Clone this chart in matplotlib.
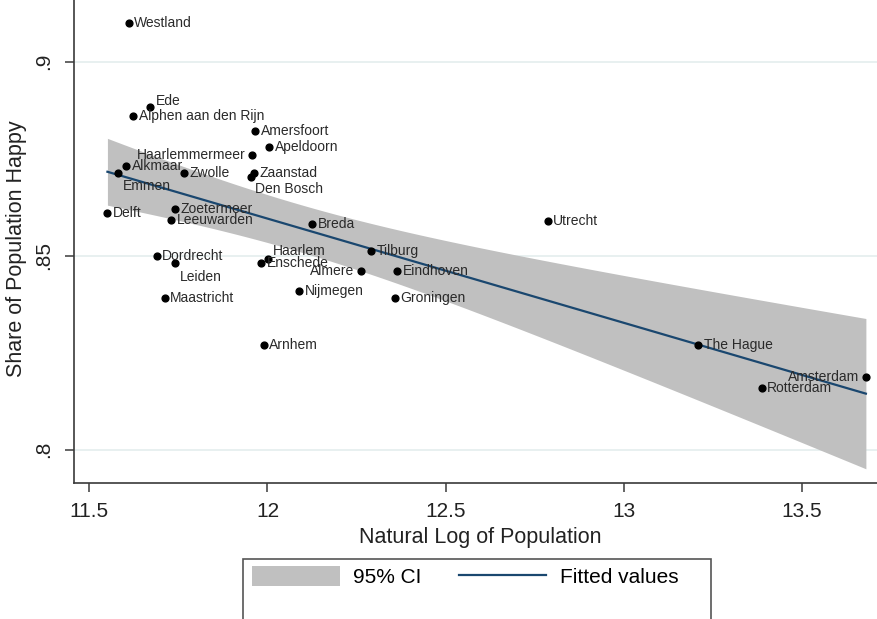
import numpy as np
import matplotlib
matplotlib.use("Agg")
import matplotlib.pyplot as plt
from matplotlib.patches import Patch, Rectangle
from matplotlib.lines import Line2D

plt.rcParams['font.family'] = ['Liberation Sans', 'DejaVu Sans']

# data
cities = ['Westland', 'Ede', 'Alphen aan den Rijn', 'Amersfoort', 'Apeldoorn',
          'Haarlemmermeer', 'Alkmaar', 'Emmen', 'Zwolle', 'Zaanstad', 'Den Bosch',
          'Delft', 'Zoetermeer', 'Leeuwarden', 'Breda', 'Dordrecht', 'Leiden',
          'Haarlem', 'Enschede', 'Almere', 'Tilburg', 'Nijmegen', 'Maastricht',
          'Arnhem', 'Eindhoven', 'Groningen', 'Utrecht', 'The Hague', 'Rotterdam',
          'Amsterdam']
log_pop = [11.611, 11.670, 11.623, 11.966, 12.005,
           11.957, 11.603, 11.582, 11.767, 11.963, 11.954,
           11.551, 11.740, 11.729, 12.126, 11.689, 11.740,
           12.001, 11.982, 12.262, 12.290, 12.088, 11.712,
           11.990, 12.364, 12.358, 12.786, 13.208, 13.387,
           13.679]
happy = [0.9099, 0.8882, 0.8861, 0.8821, 0.8781,
         0.8760, 0.8732, 0.8712, 0.8712, 0.8712, 0.8704,
         0.8611, 0.8620, 0.8591, 0.8581, 0.8500, 0.8480,
         0.8491, 0.8480, 0.8461, 0.8512, 0.8410, 0.8392,
         0.8269, 0.8461, 0.8390, 0.8590, 0.8269, 0.8158,
         0.8188]

# label placement (offsets in points, alignment)
label_pos = {
    'Ede': (4, 5, 'left'),
    'Emmen': (3, -9, 'left'),
    'Den Bosch': (3, -9, 'left'),
    'Haarlemmermeer': (-5, 0, 'right'),
    'Leiden': (4, -10, 'left'),
    'Haarlem': (4, 6, 'left'),
    'Almere': (-5, 0, 'right'),
    'Amsterdam': (-5, 0, 'right'),
}

x = np.array(log_pop)
y = np.array(happy)

# linear fit with 95% CI of the mean prediction
n = len(x)
b, a = np.polyfit(x, y, 1)
resid = y - (a + b * x)
s = np.sqrt(np.sum(resid ** 2) / (n - 2))
sxx = np.sum((x - x.mean()) ** 2)
t = 2.048
xs = np.linspace(x.min(), x.max(), 100)
fit = a + b * xs
half = t * s * np.sqrt(1 / n + (xs - x.mean()) ** 2 / sxx)

fig = plt.figure(figsize=(8.78, 6.19), dpi=100)
ax = fig.add_axes([0.0846, 0.2192, 1 - 0.0846, 1 - 0.2192])

ax.fill_between(xs, fit - half, fit + half, color='#c0c0c0', lw=0, zorder=1)
ax.plot(xs, fit, color='#1a476f', lw=1.6, zorder=2)
ax.scatter(x, y, s=24, color='black', zorder=3)

for name, xi, yi in zip(cities, x, y):
    dx, dy, ha = label_pos.get(name, (4, 0, 'left'))
    ax.annotate(name, (xi, yi), xytext=(dx, dy), textcoords='offset points',
                ha=ha, va='center', fontsize=10, color='#2a2a2a', zorder=4)

ax.set_xlim(11.458, 13.713)
ax.set_ylim(0.79134, 0.9159)
ax.set_xticks([11.5, 12, 12.5, 13, 13.5])
ax.set_xticklabels(['11.5', '12', '12.5', '13', '13.5'])
ax.set_yticks([0.8, 0.85, 0.9])
ax.set_yticklabels(['.8', '.85', '.9'], rotation=90, va='center')
ax.grid(axis='y', color='#e4eeee', lw=1.2)
ax.set_axisbelow(True)

for side in ['top', 'right']:
    ax.spines[side].set_visible(False)
for side in ['left', 'bottom']:
    ax.spines[side].set_color('#3a3a3a')
    ax.spines[side].set_linewidth(1.2)
ax.tick_params(axis='both', length=6.5, width=1.1, color='#3a3a3a',
               labelsize=15, labelcolor='#222222')
ax.tick_params(axis='x', pad=7)
ax.tick_params(axis='y', pad=9)

ax.set_xlabel('Natural Log of Population', fontsize=15.5, color='#222222')
ax.set_ylabel('Share of Population Happy', fontsize=15.5, color='#222222')
ax.xaxis.set_label_coords(0.505, -0.090)
ax.yaxis.set_label_coords(-0.059, 0.485)

# legend
handles = [Patch(facecolor='#c0c0c0', edgecolor='none'),
           Line2D([0], [0], color='#1a476f', lw=1.6)]
fig.legend(handles, ['95% CI', 'Fitted values'], ncol=2, frameon=False,
           loc='upper left', bbox_to_anchor=(252 / 878, 1 - 566 / 619),
           fontsize=15, handlelength=4.2, handleheight=1.1,
           handletextpad=0.65, columnspacing=1.8, borderpad=0, borderaxespad=0)
fig.add_artist(Rectangle((243 / 878, -0.1), (711 - 243) / 878, 0.1 + (619 - 559) / 619,
                         transform=fig.transFigure, fill=False,
                         edgecolor='#555555', lw=1.2))

fig.savefig('out.png', dpi=100)
